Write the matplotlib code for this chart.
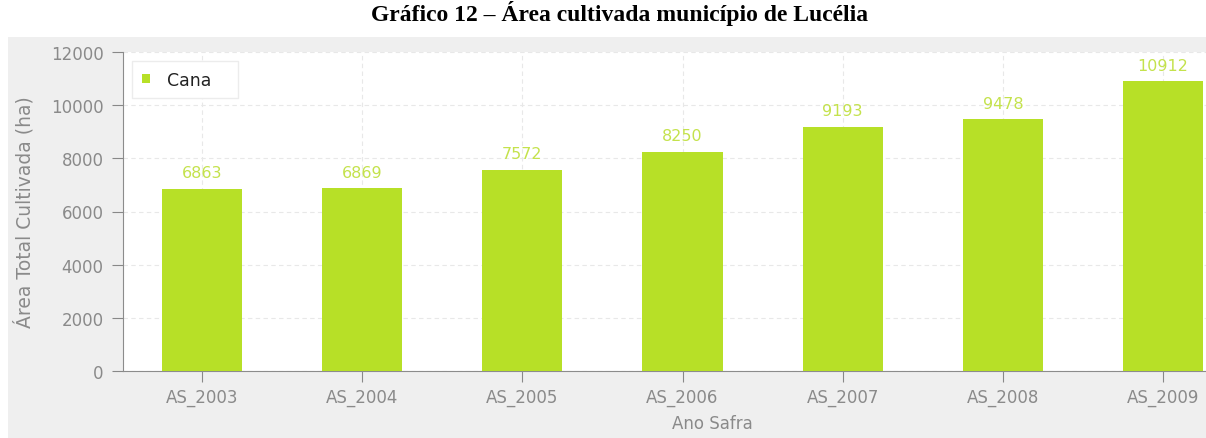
import matplotlib
matplotlib.use("Agg")
import matplotlib.pyplot as plt
from matplotlib.patches import Rectangle

# data
safras = ["AS_2003", "AS_2004", "AS_2005", "AS_2006", "AS_2007", "AS_2008", "AS_2009"]
area_cana = [6863, 6869, 7572, 8250, 9193, 9478, 10912]
y_ticks = [0, 2000, 4000, 6000, 8000, 10000, 12000]

plt.rcParams['font.family'] = ['DejaVu Sans']

bar_color = "#b7e027"
label_color = "#c4e24c"
grey_txt = "#8a8a8a"

W, H = 1206, 439
fig = plt.figure(figsize=(W / 100, H / 100), dpi=100)
fig.patch.set_facecolor("white")

# grey panel behind the chart
fig.patches.append(Rectangle((8 / W, 0), 1 - 8 / W, 1 - 38 / H, transform=fig.transFigure,
                             facecolor="#efefef", edgecolor="none", zorder=-5))

fig.text(0.5135, 1 - 13 / H, "Gráfico 12 – Área cultivada município de Lucélia",
         ha="center", va="center", fontsize=17, fontweight="bold",
         family=["Liberation Serif", "DejaVu Serif"])

ax = fig.add_axes([123 / W, 1 - 372 / H, (W - 123) / W, (372 - 53) / H], zorder=2)
ax.set_facecolor("white")

x = list(range(len(safras)))
ax.bar(x, area_cana, width=0.5, color=bar_color, zorder=3, label="Cana")
for xi, v in zip(x, area_cana):
    ax.annotate(str(v), (xi, v), xytext=(0, 6), textcoords="offset points",
                ha="center", va="bottom", color=label_color, fontsize=11.5)

ax.set_xlim(-0.493, 6.268)
ax.set_ylim(0, 12000)
ax.set_xticks(x)
ax.set_xticklabels(safras)
ax.set_yticks(y_ticks)
ax.tick_params(axis="both", colors="#888888", labelcolor=grey_txt, labelsize=12, length=8)
ax.tick_params(axis="x", pad=4)
ax.tick_params(axis="y", pad=6)

for s in ["top", "right"]:
    ax.spines[s].set_visible(False)
for s in ["left", "bottom"]:
    ax.spines[s].set_color("#8c8c8c")

ax.grid(True, color="#e8e8e8", linestyle=(0, (4, 3)), linewidth=0.8, zorder=0)
ax.set_axisbelow(True)

ax.set_xlabel("Ano Safra", color=grey_txt, fontsize=12)
ax.xaxis.set_label_coords((712 - 123) / (W - 123), -0.135)
ax.set_ylabel("Área Total Cultivada (ha)", color=grey_txt, fontsize=13.5)
ax.yaxis.set_label_coords(-0.082, 0.5)

leg = ax.legend(loc="upper left", bbox_to_anchor=(0.0135, 0.955), frameon=True, fontsize=12.5,
                handlelength=0.45, handleheight=0.45, borderpad=0.25, handletextpad=1.0,
                borderaxespad=0.0)
leg.get_frame().set_edgecolor("#ececec")
leg.get_frame().set_facecolor("white")
leg.get_frame().set_boxstyle("square")
leg.get_frame().set_alpha(1)
for t in leg.get_texts():
    t.set_color("#222222")
    t.set_text("Cana   ")

fig.savefig("out.png", dpi=100)
